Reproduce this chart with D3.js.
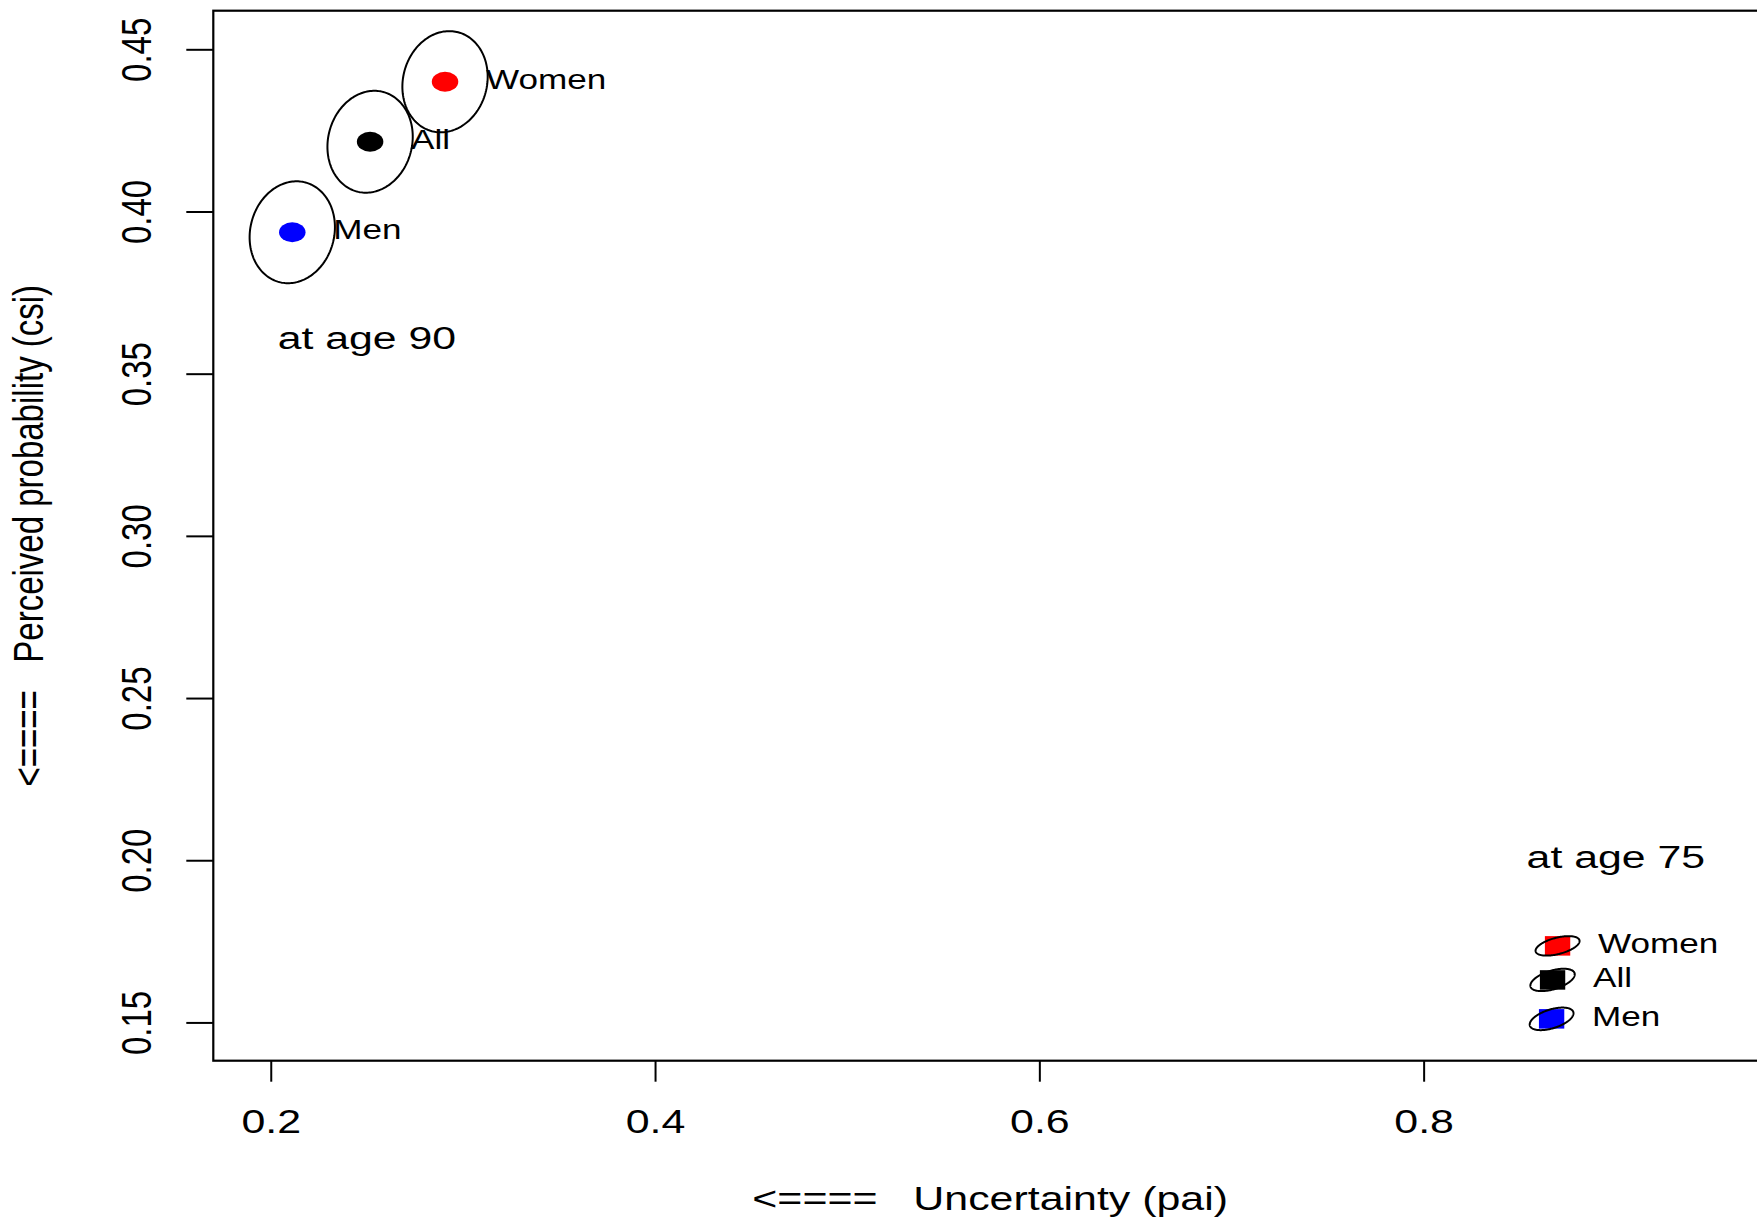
<!DOCTYPE html>
<html>
<head>
<meta charset="utf-8">
<script src="https://cdn.jsdelivr.net/npm/d3@7"></script>
<style>
  html, body { margin: 0; padding: 0; background: #fff; }
  svg { display: block; font-family: "Liberation Sans", Arial, Helvetica, sans-serif; }
  text { white-space: pre; }
</style>
</head>
<body>
<svg id="chart" width="1757" height="1217"></svg>
<script>
// Groups and their mean positions (uncertainty pai, perceived probability csi)
const groups = ["Women", "All", "Men"];

const pai90 = [0.2907, 0.2517, 0.2112];
const csi90 = [0.4400, 0.4215, 0.3936];

const pai75 = [0.8697, 0.8671, 0.8666];
const csi75 = [0.1736, 0.1631, 0.1511];

// Confidence ellipses: half-extent along pai, along csi, and correlation
const halfPai90 = [0.0222, 0.0222, 0.0222];
const halfCsi90 = [0.0156, 0.0157, 0.0157];
const rho90 = [0.10, 0.10, 0.10];

const halfPai75 = [0.01145, 0.01155, 0.0114];
const halfCsi75 = [0.0030, 0.00345, 0.00348];
const rho75 = [0.50, 0.50, 0.50];

// Annotations
const noteText = ["at age 90", "at age 75"];
const notePai = [0.25, 0.90];
const noteCsi = [0.36, 0.20];

// Axes
const xTicks = [0.2, 0.4, 0.6, 0.8];
const xTickLabels = ["0.2", "0.4", "0.6", "0.8"];
const yTicks = [0.15, 0.20, 0.25, 0.30, 0.35, 0.40, 0.45];
const yTickLabels = ["0.15", "0.20", "0.25", "0.30", "0.35", "0.40", "0.45"];
const xTitle = "<====   Uncertainty (pai)";
const yTitle = "<====   Perceived probability (csi)";

// ---- drawing ----
const groupColor = { Women: "#ff0000", All: "#000000", Men: "#0000ff" };
const SX = 1.3;          // horizontal glyph stretch of the device
const plot = { left: 213.3, right: 1767, top: 10.7, bottom: 1060.7 };

const svg = d3.select("#chart");

const x = d3.scaleLinear().domain([0.1701, 0.9787]).range([plot.left, plot.right]);
const y = d3.scaleLinear().domain([0.1382, 0.4619]).range([plot.bottom, plot.top]);

// plot frame
svg.append("rect")
  .attr("x", plot.left).attr("y", plot.top)
  .attr("width", plot.right - plot.left).attr("height", plot.bottom - plot.top)
  .attr("fill", "none").attr("stroke", "#000").attr("stroke-width", 2.2);

// x axis
const xAxis = svg.append("g")
  .attr("transform", `translate(0,${plot.bottom})`)
  .call(d3.axisBottom(x).tickValues(xTicks).tickSize(21).tickSizeOuter(0)
        .tickFormat((d, i) => xTickLabels[i]));
xAxis.select(".domain").remove();
xAxis.selectAll(".tick line").attr("stroke", "#000").attr("stroke-width", 2);
xAxis.selectAll(".tick text")
  .attr("y", null).attr("dy", null)
  .attr("transform", `translate(0,72) scale(${SX},1)`)
  .attr("text-anchor", "middle")
  .attr("fill", "#000")
  .style("font-size", "33px")
  .style("font-family", "'Liberation Sans', Arial, sans-serif");

// y axis
const yAxis = svg.append("g")
  .attr("transform", `translate(${plot.left},0)`)
  .call(d3.axisLeft(y).tickValues(yTicks).tickSize(27).tickSizeOuter(0)
        .tickFormat((d, i) => yTickLabels[i]));
yAxis.select(".domain").remove();
yAxis.selectAll(".tick line").attr("stroke", "#000").attr("stroke-width", 2);
yAxis.selectAll(".tick text")
  .attr("x", null).attr("dy", null)
  .attr("transform", `translate(-62,0) scale(${SX},1) rotate(-90)`)
  .attr("text-anchor", "middle")
  .attr("fill", "#000")
  .style("font-size", "33px")
  .style("font-family", "'Liberation Sans', Arial, sans-serif");

// axis titles
svg.append("text")
  .attr("transform", `translate(${(plot.left + plot.right) / 2},1210) scale(${SX},1)`)
  .attr("text-anchor", "middle")
  .style("font-size", "33px")
  .text(xTitle);

svg.append("text")
  .attr("transform", `translate(43,${(plot.top + plot.bottom) / 2}) scale(${SX},1) rotate(-90)`)
  .attr("text-anchor", "middle")
  .style("font-size", "33px")
  .text(yTitle);

// ellipse outline built in data space, then mapped through the scales
function ellipsePath(cx, cy, hx, hy, rho) {
  const d = Math.acos(rho);
  const pts = d3.range(0, 2 * Math.PI, Math.PI / 90).map(t => [
    cx + hx * Math.cos(t),
    cy + hy * Math.cos(t + d)
  ]);
  return d3.line().x(p => x(p[0])).y(p => y(p[1])).curve(d3.curveLinearClosed)(pts);
}

const g = svg.append("g");

// age 90: ellipses + round markers
groups.forEach((name, i) => {
  g.append("path")
    .attr("d", ellipsePath(pai90[i], csi90[i], halfPai90[i], halfCsi90[i], rho90[i]))
    .attr("fill", "none").attr("stroke", "#000").attr("stroke-width", 2);
  g.append("ellipse")
    .attr("cx", x(pai90[i])).attr("cy", y(csi90[i]))
    .attr("rx", 10 * SX * 1.02).attr("ry", 10)
    .attr("fill", groupColor[name]);
  g.append("text")
    .attr("transform", `translate(${x(pai90[i]) + 41},${y(csi90[i]) + 7}) scale(${SX},1)`)
    .style("font-size", "27px")
    .text(name);
});

// age 75: square markers + ellipses
groups.forEach((name, i) => {
  const s = 19.5;
  g.append("rect")
    .attr("x", x(pai75[i]) - s * SX / 2).attr("y", y(csi75[i]) - s / 2)
    .attr("width", s * SX).attr("height", s)
    .attr("fill", groupColor[name]);
  g.append("path")
    .attr("d", ellipsePath(pai75[i], csi75[i], halfPai75[i], halfCsi75[i], rho75[i]))
    .attr("fill", "none").attr("stroke", "#000").attr("stroke-width", 2);
  g.append("text")
    .attr("transform", `translate(${x(pai75[i]) + 40.5},${y(csi75[i]) + 7}) scale(${SX},1)`)
    .style("font-size", "27px")
    .text(name);
});

// annotations
noteText.forEach((t, i) => {
  g.append("text")
    .attr("transform", `translate(${x(notePai[i])},${y(noteCsi[i]) + 8}) scale(1.38,1)`)
    .attr("text-anchor", "middle")
    .style("font-size", "31px")
    .text(t);
});
</script>
</body>
</html>
